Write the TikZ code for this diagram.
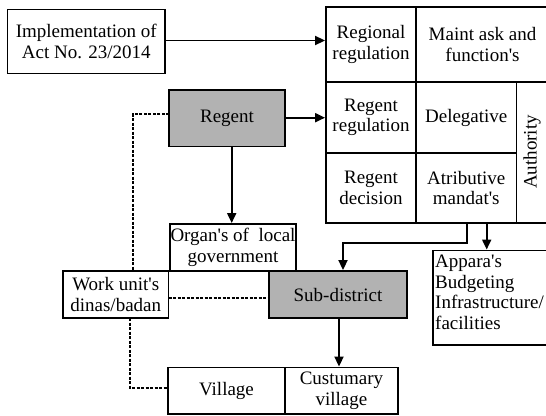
\documentclass[tikz,border=0pt]{standalone}
\usepackage{fontspec}
\setmainfont{Liberation Serif}
\usetikzlibrary{arrows.meta}
\newcommand{\ap}{\textquotesingle}
\begin{document}
\begin{tikzpicture}[x=1pt,y=-1pt,
  box/.style={draw,line width=1.9pt,rectangle,inner sep=0pt,align=center,
    font=\fontsize{19}{20.5}\selectfont},
  gbox/.style={box,fill=black!30},
  conn/.style={line width=1.9pt},
  arr/.style={conn,-{Triangle[width=9pt,length=10pt]}},
  dsh/.style={line width=1.9pt,dash pattern=on 3pt off 1.5pt},
  txt/.style={font=\fontsize{19}{20.5}\selectfont,align=center,inner sep=0pt}]
\useasboundingbox (0,0) rectangle (546,415);
\clip (0,0) rectangle (546,415);
% box from (x1,y1) to (x2,y2)
\newcommand{\mybox}[7]{\node[#1,minimum width={#4-#2},minimum height={#5-#3}] (#6) at ({(#2+#4)/2},{(#3+#5)/2}) {#7};}
\mybox{box}{7.5}{9.5}{165}{73.5}{impl}{Implementation of\\Act No. 23/2014}
% table
\mybox{box}{326}{7}{416}{82}{rr}{Regional\\regulation}
\mybox{box}{416}{7}{549}{82}{mt}{Maint ask and\\function\ap s}
\mybox{box}{326}{82}{416}{153}{rg}{Regent\\regulation}
\mybox{box}{416}{82}{516.5}{153}{del}{Delegative}
\mybox{box}{326}{153}{416}{223}{rd}{Regent\\decision}
\mybox{box}{416}{153}{516.5}{223}{atr}{Atributive\\mandat\ap s}
\mybox{box}{516.5}{82}{549}{223}{auth}{}
\node[txt,rotate=90] (authtxt) at (532,152) {Authority};
\mybox{gbox}{169}{90}{285}{146.5}{regent}{Regent}
\mybox{box}{170}{224}{296}{271}{organ}{Organ\ap s of~ local\\government}
\mybox{box}{63}{271}{168.5}{318}{work}{Work unit\ap s\\dinas/badan}
\mybox{gbox}{269}{271}{407}{318}{sub}{Sub-district}
\mybox{box}{168}{367.5}{285}{414}{vil}{Village}
\mybox{box}{285}{367.5}{398}{414}{cvil}{Custumary\\village}
\mybox{box}{433}{250.5}{549}{345}{app}{}
\node[txt,align=left,anchor=north west] (apptxt) at (435,255) {Appara\ap s\\Budgeting\\Infrastructure/\\facilities};
% connectors
\coordinate (ia) at (165,40.5);
\draw[arr] (ia) -- (ia -| rr.west);
\coordinate (ra) at (285,117.7);
\draw[arr] (ra) -- (ra -| rg.west);
\coordinate (rd1) at (231.7,146.5);
\draw[arr] (rd1) -- (rd1 |- organ.north);
\coordinate (m1) at (466.7,223);
\coordinate (m2) at (466.7,242.7);
\coordinate (m3) at (343,242.7);
\draw[arr] (m1) -- (m2) -- (m3) -- (m3 |- sub.north);
\coordinate (a1) at (486.7,223);
\draw[arr] (a1) -- (a1 |- app.north);
\coordinate (s1) at (339,318);
\draw[arr] (s1) -- (s1 |- vil.north);
% dashed
\coordinate (d1) at (169,114);
\coordinate (d2) at (132.7,114);
\draw[dsh] (d1) -- (d2) -- (d2 |- work.north);
\coordinate (w1) at (168.5,298);
\draw[dsh] (w1) -- (w1 -| sub.west);
\coordinate (w2) at (130,318);
\coordinate (w3) at (130,388);
\draw[dsh] (w2) -- (w3) -- (w3 -| vil.west);
\end{tikzpicture}
\end{document}
